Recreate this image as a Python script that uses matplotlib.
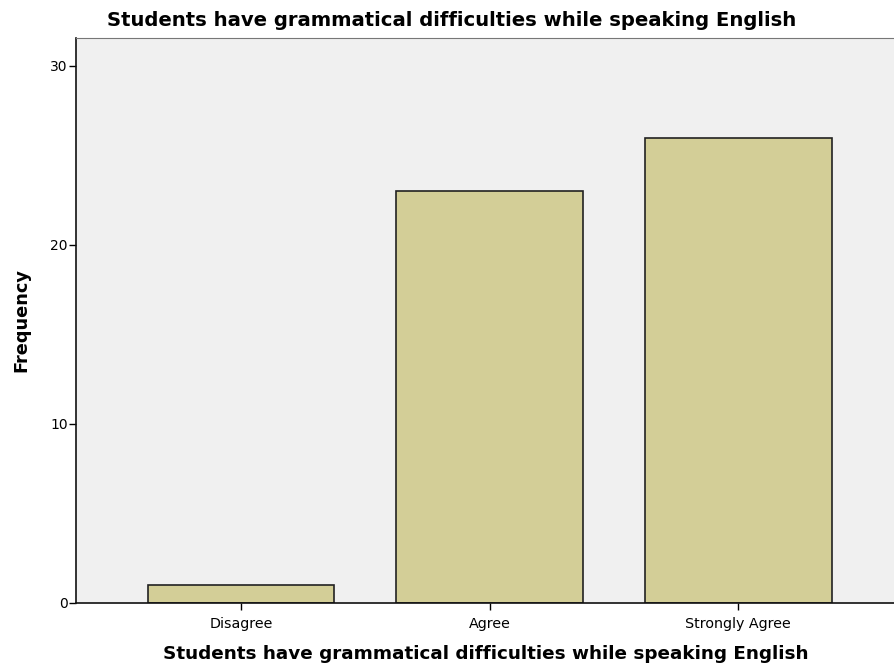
import matplotlib.pyplot as plt

plt.rcParams['font.family'] = ['DejaVu Sans']

categories = ['Disagree', 'Agree', 'Strongly Agree']
frequency = [1, 23, 26]
y_ticks = [0, 10, 20, 30]

title = 'Students have grammatical difficulties while speaking English'

fig = plt.figure(figsize=(8.95, 6.68), dpi=100)
ax = fig.add_axes([76 / 895, 65 / 668, 1 - 76 / 895, 565 / 668])
ax.set_facecolor('#F0F0F0')

pos = list(range(len(categories)))
ax.bar(pos, frequency, width=0.75, color='#D3CE97', edgecolor='#222222', linewidth=1.2)

ax.set_xlim(-0.664, 2.63)
ax.set_ylim(0, 31.56)
ax.set_xticks(pos)
ax.set_xticklabels(categories, fontsize=10.3)
ax.set_yticks(y_ticks)
ax.tick_params(axis='y', labelsize=10, length=5, width=1, pad=1)
ax.tick_params(axis='x', length=5, width=1, pad=5)

ax.spines['right'].set_visible(False)
ax.spines['top'].set_color('#777777')
ax.spines['left'].set_color('#111111')
ax.spines['bottom'].set_color('#111111')
ax.spines['left'].set_linewidth(1.2)
ax.spines['bottom'].set_linewidth(1.2)

fig.suptitle(title, x=0.5045, y=0.984, fontsize=14.1, fontweight='bold', va='top')
ax.set_xlabel(title, fontsize=13.2, fontweight='bold', labelpad=10)
ax.set_ylabel('Frequency', fontsize=12.8, fontweight='bold', labelpad=14)

fig.savefig('out.png', dpi=100)
